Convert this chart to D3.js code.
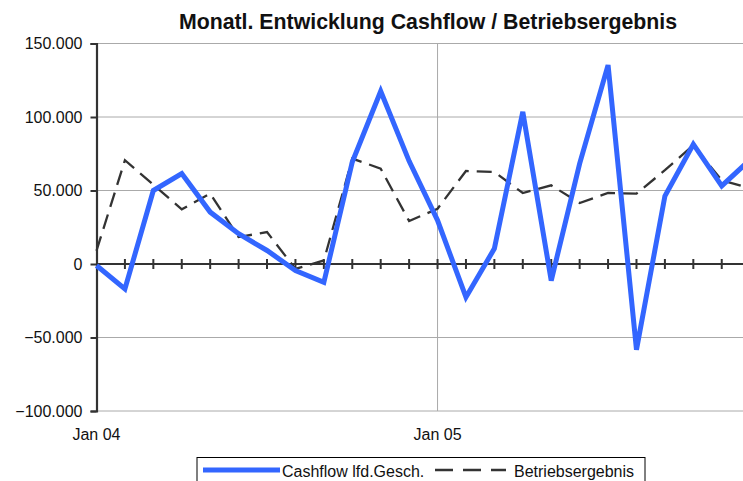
<!DOCTYPE html>
<html>
<head>
<meta charset="utf-8">
<script src="https://cdn.jsdelivr.net/npm/d3@7"></script>
<style>
    body { margin: 0; background: #fff; }
    svg text { font-family: "Liberation Sans", Arial, sans-serif; fill: #111; }
</style>
</head>
<body>
<div id="chart"></div>
<script>
// Monate Jan 04 .. Dez 05
const months = d3.range(24).map(i => new Date(2004, i, 1));
const cashflow = [-1000, -17000, 50000, 61500, 35300, 20600, 9200, -4400, -12500, 69400, 117500, 70000,
    29700, -22600, 10500, 103500, -11300, 68300, 135300, -58300, 46200, 81500, 53100, 71000];
const betrieb = [9000, 70600, 54000, 37200, 47900, 18300, 21700, -3300, 2400, 71700, 64900, 29200,
    37600, 63300, 62600, 48300, 53500, 41500, 48300, 47900, 63800, 80800, 56900, 51500];
const yTicks = [-100000, -50000, 0, 50000, 100000, 150000];
const xLabels = [new Date(2004, 0, 1), new Date(2005, 0, 1)];

const width = 743, height = 481;
const plotLeft = 96.5, plotTop = 43.5, plotBottom = 411;
const step = 28.42;

const de = d3.formatLocale({ decimal: ',', thousands: '.', grouping: [3], currency: ['', ' €'] });
const fmt = de.format(',');

const svg = d3.select('#chart').append('svg')
    .attr('width', width)
    .attr('height', height);

const x = d3.scaleLinear().domain([0, 23]).range([plotLeft, plotLeft + 23 * step]);
const y = d3.scaleLinear().domain([-100000, 150000]).range([plotBottom, plotTop]);

// Gitterlinien
svg.append('g')
    .selectAll('line')
    .data(yTicks.filter(d => d !== 0))
    .enter()
    .append('line')
    .attr('x1', plotLeft).attr('x2', width)
    .attr('y1', d => y(d)).attr('y2', d => y(d))
    .attr('stroke', '#aaaaaa')
    .attr('stroke-width', 1);

// vertikale Linie bei Jan 05
svg.append('line')
    .attr('x1', x(12)).attr('x2', x(12))
    .attr('y1', plotTop).attr('y2', plotBottom)
    .attr('stroke', '#aaaaaa')
    .attr('stroke-width', 1);

// Y-Achse
const yAxis = svg.append('g')
    .attr('transform', `translate(${plotLeft},0)`)
    .call(d3.axisLeft(y).tickValues(yTicks).tickFormat(fmt).tickSize(6).tickPadding(8));
yAxis.select('.domain').attr('stroke', '#333').attr('stroke-width', 2.2);
yAxis.selectAll('.tick line').attr('stroke', '#333').attr('stroke-width', 2);
yAxis.selectAll('.tick text').style('font-size', '16px').attr('fill', '#111');

// Nulllinie mit Monatsstrichen
const zero = svg.append('g').attr('transform', `translate(0,${y(0)})`);
zero.append('line')
    .attr('x1', plotLeft).attr('x2', width)
    .attr('stroke', '#333').attr('stroke-width', 2.2);
zero.selectAll('.mtick')
    .data(d3.range(1, 24))
    .enter()
    .append('line')
    .attr('class', 'mtick')
    .attr('x1', d => x(d)).attr('x2', d => x(d))
    .attr('y1', -5).attr('y2', 5)
    .attr('stroke', '#333').attr('stroke-width', 2);

// X-Beschriftung
const monthFmt = d3.timeFormat('%b %y');
svg.append('g')
    .selectAll('text')
    .data(xLabels)
    .enter()
    .append('text')
    .attr('x', d => x(months.findIndex(m => +m === +d)))
    .attr('y', 440)
    .attr('text-anchor', 'middle')
    .style('font-size', '16px')
    .text(d => monthFmt(d));

const line = d3.line()
    .x((d, i) => x(i))
    .y(d => y(d));

svg.append('path')
    .datum(betrieb)
    .attr('fill', 'none')
    .attr('stroke', '#333')
    .attr('stroke-width', 2.3)
    .attr('stroke-dasharray', '15,8')
    .attr('d', line);

svg.append('path')
    .datum(cashflow)
    .attr('fill', 'none')
    .attr('stroke', '#3366ff')
    .attr('stroke-width', 5)
    .attr('stroke-linejoin', 'miter')
    .attr('d', line);

// Titel
svg.append('text')
    .attr('x', 428)
    .attr('y', 29)
    .attr('text-anchor', 'middle')
    .style('font-size', '21.3px')
    .style('font-weight', 'bold')
    .text('Monatl. Entwicklung Cashflow / Betriebsergebnis');

// Legende
const legend = svg.append('g');
legend.append('rect')
    .attr('x', 197).attr('y', 457.5)
    .attr('width', 448).attr('height', 30)
    .attr('fill', '#fff').attr('stroke', '#000').attr('stroke-width', 1);
legend.append('line')
    .attr('x1', 203).attr('x2', 280).attr('y1', 470).attr('y2', 470)
    .attr('stroke', '#3366ff').attr('stroke-width', 5);
legend.append('text')
    .attr('x', 282).attr('y', 477)
    .style('font-size', '16px')
    .text('Cashflow lfd.Gesch.');
legend.append('line')
    .attr('x1', 435).attr('x2', 506).attr('y1', 470).attr('y2', 470)
    .attr('stroke', '#333').attr('stroke-width', 2.5)
    .attr('stroke-dasharray', '18,10');
legend.append('text')
    .attr('x', 514).attr('y', 477)
    .style('font-size', '16px')
    .text('Betriebsergebnis');
</script>
</body>
</html>
